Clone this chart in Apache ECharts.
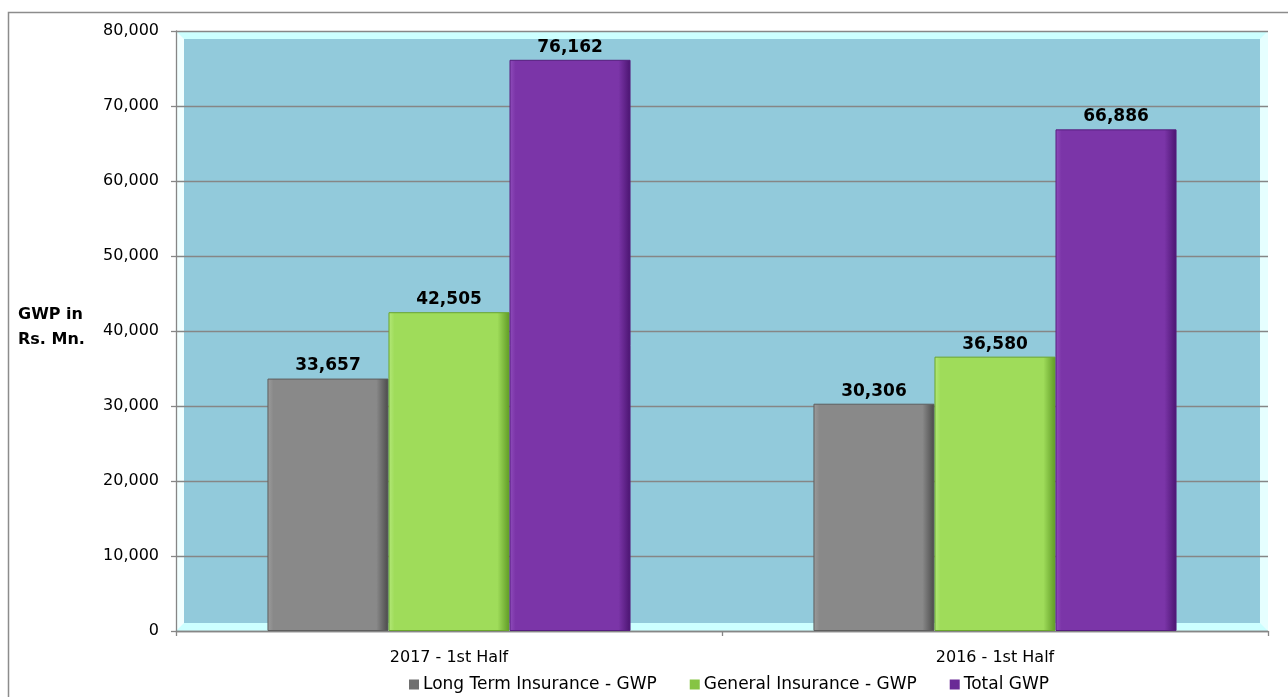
<!DOCTYPE html>
<html>
<head>
<meta charset="utf-8">
<script src="https://cdn.jsdelivr.net/npm/echarts@6/dist/echarts.min.js"></script>
<style>
html,body{margin:0;padding:0;background:#fff;}
#chart{width:1288px;height:697px;}
</style>
</head>
<body>
<div id="chart"></div>
<script>
var categories = ['2017 - 1st Half', '2016 - 1st Half'];
var seriesNames = ['Long Term Insurance - GWP', 'General Insurance - GWP', 'Total GWP'];
var longTerm = [33657, 30306];
var general = [42505, 36580];
var total = [76162, 66886];
var yTicks = [0, 10000, 20000, 30000, 40000, 50000, 60000, 70000, 80000];

var FONT = '"DejaVu Sans", Verdana, sans-serif';
var L = 176, R = 1268, T = 31, B = 631, D = 8;

function bevel(light, base, dark) {
  return {
    type: 'linear', x: 0, y: 0, x2: 1, y2: 0,
    colorStops: [
      {offset: 0, color: light},
      {offset: 0.05, color: base},
      {offset: 0.9, color: base},
      {offset: 1, color: dark}
    ]
  };
}
var styles = [
  {color: bevel('#9c9c9c', '#898989', '#4a4a4a'), border: '#5e5e5e', legend: '#6f6f6f'},
  {color: bevel('#b4e87a', '#9fdc5a', '#5f9a25'), border: '#6aa52c', legend: '#86c443'},
  {color: bevel('#8f4dbb', '#7b35a8', '#4a1470'), border: '#561d7e', legend: '#6a2a96'}
];
var dataArr = [longTerm, general, total];

var chart = echarts.init(document.getElementById('chart'));
chart.setOption({
  animation: false,
  backgroundColor: '#ffffff',
  textStyle: {fontFamily: FONT},
  grid: {left: L, right: 1288 - R, top: T, bottom: 697 - B, containLabel: false,
         show: true, backgroundColor: '#ccffff', borderWidth: 0},
  graphic: [
    {type: 'rect', z: -10, silent: true, shape: {x: 8.5, y: 12.5, width: 1400, height: 1000},
     style: {fill: 'none', stroke: '#8c8c8c', lineWidth: 1.5}},
    {type: 'polygon', z: 1, silent: true,
     shape: {points: [[L, T], [L + D, T + D], [L + D, B - D], [L, B]]},
     style: {fill: '#f2ffff'}},
    {type: 'polygon', z: 1, silent: true,
     shape: {points: [[R, T], [R - D, T + D], [R - D, B - D], [R, B]]},
     style: {fill: '#e6ffff'}},
    {type: 'rect', z: 1, silent: true,
     shape: {x: L + D, y: T + D, width: R - L - 2 * D, height: B - T - 2 * D},
     style: {fill: '#92cadb'}},
    {type: 'text', z: 5, left: 18, top: 302, silent: true,
     style: {text: 'GWP in\nRs. Mn.', fontFamily: FONT, fontWeight: 'bold', fontSize: 16,
             lineHeight: 25, fill: '#000'}}
  ],
  legend: {
    left: 404, top: 671, itemWidth: 10, itemHeight: 10, itemGap: 33,
    icon: 'rect',
    itemStyle: {borderWidth: 0},
    textStyle: {fontFamily: FONT, fontSize: 17, color: '#000', padding: [0, 0, 0, -1]},
    data: seriesNames.map(function (n, i) {
      return {name: n, itemStyle: {color: styles[i].legend, borderWidth: 0}};
    })
  },
  xAxis: {
    type: 'category', data: categories, z: 2,
    axisLine: {lineStyle: {color: '#868686', width: 1.3}},
    axisTick: {show: true, length: 5, lineStyle: {color: '#868686', width: 1.3}},
    axisLabel: {fontFamily: FONT, fontSize: 16, color: '#000', margin: 19},
    splitLine: {show: false}
  },
  yAxis: {
    type: 'value', min: 0, max: 80000, interval: 10000, z: 2,
    axisLine: {show: true, lineStyle: {color: '#868686', width: 1.3}},
    axisTick: {show: true, length: 5, lineStyle: {color: '#868686', width: 1.3}},
    axisLabel: {fontFamily: FONT, fontSize: 16, color: '#000', margin: 17,
                formatter: function (v) { return v.toLocaleString('en-US'); }},
    splitLine: {show: true, lineStyle: {color: '#868686', width: 1.3}}
  },
  series: seriesNames.map(function (n, i) {
    return {
      name: n, type: 'bar', z: 3,
      barGap: '0%', barCategoryGap: '33.5%',
      data: dataArr[i],
      itemStyle: {color: styles[i].color, borderColor: styles[i].border, borderWidth: 1},
      label: {show: true, position: 'top', distance: 4, fontFamily: FONT, fontWeight: 'bold',
              fontSize: 17, color: '#000',
              formatter: function (p) { return p.value.toLocaleString('en-US'); }}
    };
  })
});
</script>
</body>
</html>
